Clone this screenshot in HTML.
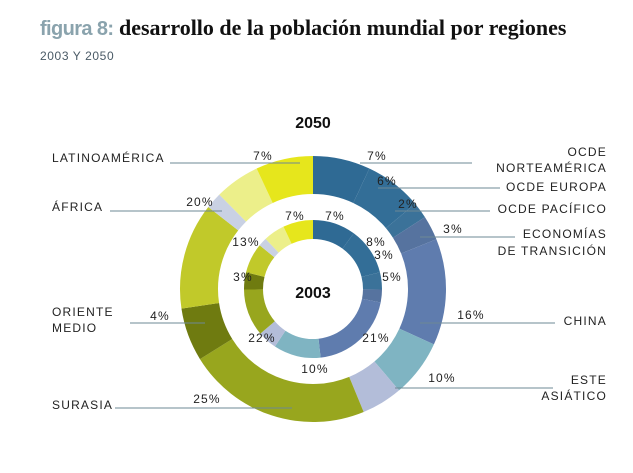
<!DOCTYPE html>
<html><head><meta charset="utf-8"><style>
body{margin:0;background:#fff;width:633px;height:473px;overflow:hidden;position:relative;font-family:"Liberation Sans",sans-serif}
.t{position:absolute;white-space:nowrap}
</style></head><body>
<div class="t" style="left:40px;top:15px;font-family:'Liberation Serif',serif;font-weight:bold;font-size:22px;color:#111"><span style="font-family:'Liberation Sans',sans-serif;color:#8aa3ad;font-size:20px;letter-spacing:-0.6px">figura 8:</span> desarrollo de la población mundial por regiones</div>
<div class="t" style="left:40px;top:49px;font-size:12px;color:#4a5a66;letter-spacing:0.6px">2003 Y 2050</div>
<svg id="c" width="633" height="473" style="position:absolute;left:0;top:0"></svg>
<script>
const cats=["OCDE Norteamérica","OCDE Europa","OCDE Pacífico","Economías de transición","China","Este asiático","Otros Asia","Surasia","Oriente medio","África","Otros","Latinoamérica","Caribe"];
const vals2050=[7,7,2,3,13,7,5,22.5,6.5,13,2,5.5,7];
const vals2003=[10,11,4,3,20,11,4.5,11,4,7,2,5,7];
const colors=["#2f6a94","#336e97","#3b7299","#56739f","#5f7cae","#7fb4c2","#b3bdd9","#98a61e","#6f7b10","#c1c92a","#c9d1e3","#ecef8a","#e6e61c"];
const labels2050=["7%","6%","2%","3%","16%","10%","25%","4%","20%","7%"];
const labels2003=["7%","8%","3%","5%","21%","10%","22%","3%","13%","7%"];
const svg=document.getElementById('c');
const NS="http://www.w3.org/2000/svg";
const cx=313,cy=289;
function pt(a,r){return [cx+r*Math.sin(a),cy-r*Math.cos(a)];}
function ring(vals,r0,r1,name){
 const tot=vals.reduce((a,b)=>a+b,0);let s=0;
 vals.forEach((v,i)=>{
  const a0=s/tot*2*Math.PI;s+=v;const a1=s/tot*2*Math.PI;
  const [x0,y0]=pt(a0,r1),[x1,y1]=pt(a1,r1),[x2,y2]=pt(a1,r0),[x3,y3]=pt(a0,r0);
  const lg=(a1-a0)>Math.PI?1:0;
  const p=document.createElementNS(NS,'path');
  p.setAttribute('d',`M${x0},${y0}A${r1},${r1} 0 ${lg} 1 ${x1},${y1}L${x2},${y2}A${r0},${r0} 0 ${lg} 0 ${x3},${y3}Z`);
  p.setAttribute('fill',colors[i]);
  
  
  svg.appendChild(p);
 });
}
ring(vals2050,95,133,'slice-2050');
ring(vals2003,50,69,'slice-2003');
function line(x1,y,x2,n){const l=document.createElementNS(NS,'line');l.setAttribute('x1',x1);l.setAttribute('x2',x2);l.setAttribute('y1',y);l.setAttribute('y2',y);l.setAttribute('stroke','#6d8894');l.setAttribute('stroke-width','1');


svg.appendChild(l);}
function txt(x,y,s,anchor,n,extra){const t=document.createElementNS(NS,'text');t.setAttribute('x',x);t.setAttribute('y',y);t.setAttribute('text-anchor',anchor||'start');t.setAttribute('font-size','12');t.setAttribute('fill','#222');t.setAttribute('letter-spacing','1.2');if(extra)for(const k in extra)t.setAttribute(k,extra[k]);t.textContent=s;


svg.appendChild(t);}
line(360,163,472,'leader-norteamerica');line(378,188,500,'leader-europa');line(395,211,490,'leader-pacifico');line(420,237,515,'leader-transicion');
line(420,323,555,'leader-china');line(395,388,553,'leader-este-asiatico');
line(170,163,300,'leader-latinoamerica');line(110,211,222,'leader-africa');line(130,323,205,'leader-oriente-medio');line(115,408,292,'leader-surasia');
txt(607,156,"OCDE","end",'label-ocde');txt(607,172,"NORTEAMÉRICA","end",'label-norteamerica');
txt(607,191,"OCDE EUROPA","end",'label-europa');txt(607,213,"OCDE PACÍFICO","end",'label-pacifico');
txt(607,238,"ECONOMÍAS","end",'label-economias');txt(607,255,"DE TRANSICIÓN","end",'label-transicion');
txt(607,325,"CHINA","end",'label-china');txt(607,384,"ESTE","end",'label-este');txt(607,400,"ASIÁTICO","end",'label-asiatico');
txt(52,162,"LATINOAMÉRICA","start",'label-latinoamerica');txt(52,211,"ÁFRICA","start",'label-africa');
txt(52,316,"ORIENTE","start",'label-oriente');txt(52,332,"MEDIO","start",'label-medio');txt(52,409,"SURASIA","start",'label-surasia');
[[263,160,9],[377,160,0],[387,185,1],[408,208,2],[453,233,3],[471,319,4],[442,382,5],[207,403,6],[160,320,7],[200,206,8]].forEach(a=>txt(a[0],a[1],labels2050[a[2]],'middle','value-2050'));
[[295,220,0],[335,220,1],[376,246,2],[384,259,3],[392,281,4],[376,342,5],[315,373,6],[262,342,7],[243,281,8],[246,246,9]].forEach((a,i)=>{const m=[9,0,1,2,3,4,5,6,7,8][i];txt(a[0],a[1],labels2003[m],'middle','value-2003');});
txt(313,128,"2050","middle",'ring-title-2050',{'font-size':'16','font-weight':'bold','letter-spacing':'0','fill':'#111'});
txt(313,298,"2003","middle",'ring-title-2003',{'font-size':'16','font-weight':'bold','letter-spacing':'0','fill':'#111'});
</script>
</body></html>
